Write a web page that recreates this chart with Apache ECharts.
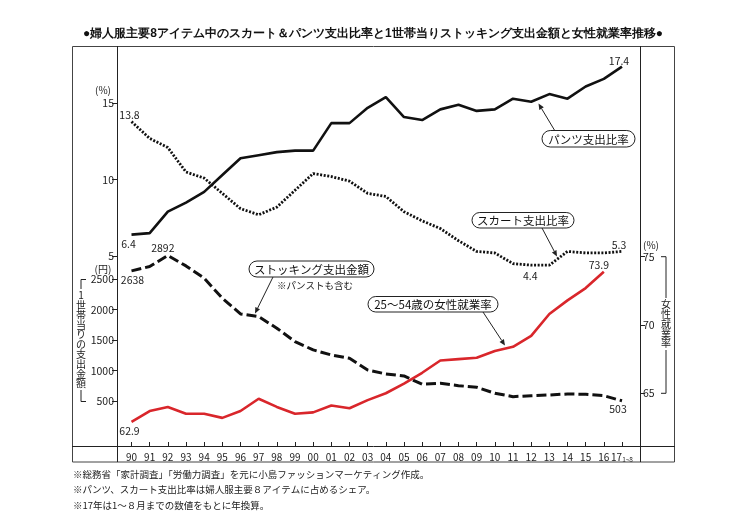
<!DOCTYPE html>
<html><head><meta charset="utf-8">
<script src="https://cdn.jsdelivr.net/npm/echarts@6/dist/echarts.min.js"></script>
<style>html,body{margin:0;padding:0;background:#fff}#c{width:750px;height:530px}</style>
</head><body><div id="c"></div>
<script>
// ---- data ----
const years = ['90','91','92','93','94','95','96','97','98','99','00','01','02','03','04','05','06','07','08','09','10','11','12','13','14','15','16','17'];
const pantsShare = [6.4,6.5,7.9,8.5,9.2,10.3,11.4,11.6,11.8,11.9,11.9,13.7,13.7,14.7,15.4,14.1,13.9,14.6,14.9,14.5,14.6,15.3,15.1,15.6,15.3,16.1,16.6,17.4];
const skirtShare = [13.8,12.7,12.1,10.5,10.1,9.1,8.1,7.7,8.2,9.3,10.4,10.2,9.9,9.1,8.9,7.9,7.3,6.8,6.0,5.3,5.2,4.5,4.4,4.4,5.3,5.2,5.2,5.3];
const stockingYen = [2638,2709,2892,2720,2518,2189,1931,1887,1696,1476,1339,1257,1202,1010,944,911,775,791,752,725,627,571,587,599,615,610,587,503];
const femaleEmployment = [62.9,63.7,64.0,63.5,63.5,63.2,63.7,64.6,64.0,63.5,63.6,64.1,63.9,64.5,65.0,65.7,66.5,67.4,67.5,67.6,68.1,68.4,69.2,70.8,71.8,72.7,73.9,null];
const pctTicks = [5,10,15];
const yenTicks = [500,1000,1500,2000,2500];
const empTicks = [65,70,75];
const titleText = '●婦人服主要8アイテム中のスカート＆パンツ支出比率と1世帯当りストッキング支出金額と女性就業率推移●';
const notes = ['※総務省「家計調査」「労働力調査」を元に小島ファッションマーケティング作成。','※パンツ、スカート支出比率は婦人服主要８アイテムに占めるシェア。','※17年は1〜８月までの数値をもとに年換算。'];

// ---- label placement (style, not data) ----
const pantsMarks = {0:[-3,9], 27:[-3,-6]};
const skirtMarks = {0:[-2,-7], 22:[-1,10.5], 27:[-3,-6.5]};
const stockMarks = {0:[1,9.5], 2:[-5,-7.5], 27:[-4,8]};
const empMarks = {0:[-2,9], 26:[-5,-7]};

const FONT = '"Noto Sans CJK JP","Noto Sans",sans-serif';
function withLabels(values, marks){
  return values.map((v,i)=> marks[i] ? {value:v, label:{show:true, position:'inside', offset:marks[i], color:'#222', fontSize:10.5, fontFamily:FONT}} : v);
}
function arrow(x1,y1,x2,y2){
  const a=Math.atan2(y2-y1,x2-x1), L=6, W=2.6;
  const bx=x2-L*Math.cos(a), by=y2-L*Math.sin(a);
  return [
    {type:'line',shape:{x1,y1,x2:bx,y2:by},style:{stroke:'#222',lineWidth:1},z:20},
    {type:'polygon',shape:{points:[[x2,y2],[bx+W*Math.sin(a),by-W*Math.cos(a)],[bx-W*Math.sin(a),by+W*Math.cos(a)]]},style:{fill:'#222'},z:20}
  ];
}
function pill(x,y,w,h,text){
  return [
    {type:'rect',shape:{x,y,width:w,height:h,r:h/2},style:{fill:'#fff',stroke:'#222',lineWidth:1},z:21},
    {type:'text',x:x+w/2,y:y+h/2+0.5,style:{text,fill:'#111',font:'11.5px '+FONT,align:'center',verticalAlign:'middle'},z:22}
  ];
}
function txt(x,y,text,size,align,extra){
  return Object.assign({type:'text',x,y,style:Object.assign({text,fill:'#222',font:size+'px '+FONT,align:align||'center',verticalAlign:'middle'},extra||{}),z:22});
}
const L = (pts)=>({type:'polyline',shape:{points:pts},style:{stroke:'#222',lineWidth:1,fill:null},z:20});

const graphics = [].concat(
  [{type:'rect',shape:{x:72.5,y:46.5,width:602,height:415.5},style:{fill:null,stroke:'#444',lineWidth:1},z:19},
   L([[117.5,46],[117.5,462]]), L([[640.5,46],[640.5,462]]), L([[72,446.5],[675,446.5]])],
  [txt(373,34,titleText,11.8,'center',{fontWeight:'bold',fill:'#111'})],
  notes.map((t,i)=>txt(73,474+i*15.5,t,9.5,'left')),
  [txt(103,90,'(%)',10), txt(103,269,'(円)',10), txt(651,245,'(%)',10)],
  [L([[86,279.5],[81,279.5],[81,289]]), L([[81,390],[81,401.5],[86,401.5]]),
   txt(81,339.5,'1\n世\n帯\n当\nり\nの\n支\n出\n金\n額',10,'center',{lineHeight:9.8}),
   L([[661,256.7],[666,256.7],[666,298]]), L([[666,350],[666,393.3],[661,393.3]]),
   txt(666,324,'女\n性\n就\n業\n率',10,'center',{lineHeight:9.8})],
  pill(542,130.5,93,16.5,'パンツ支出比率'), arrow(555,131,538.5,103.5),
  pill(472,212.5,102,15.5,'スカート支出比率'), arrow(542,228,557,256.5),
  pill(249,261,125,16,'ストッキング支出金額'), arrow(273,277,255,313.5),
  [txt(277,285.5,'※パンストも含む',9.5,'left')],
  pill(368,296.5,130,15.5,'25〜54歳の女性就業率'), arrow(483,312,505,345.5)
);

const chart = echarts.init(document.getElementById('c'), null, {renderer:'canvas'});
const tickStyle = {color:'#222', width:1};
const plain = (v)=>String(v);
chart.setOption({
  animation:false,
  backgroundColor:'#fff',
  grid:{left:131.5, right:128, top:46, bottom:84},
  xAxis:{type:'category', data:years, boundaryGap:false, position:'bottom',
    axisLine:{show:false, onZero:false},
    axisTick:{show:true, inside:true, length:4, lineStyle:tickStyle, interval:0},
    axisLabel:{interval:0, margin:6, fontSize:10, color:'#222', fontFamily:FONT,
      formatter:(v)=> v==='17' ? '{a|17}{b|1~8}' : v,
      rich:{a:{fontSize:10, color:'#222', fontFamily:FONT}, b:{fontSize:6.5, color:'#222', fontFamily:FONT, padding:[4,0,0,0]}}},
    splitLine:{show:false}},
  yAxis:[
    {type:'value', min:-7.44, max:18.75, position:'left', offset:14.5,
     axisLine:{show:false, onZero:false}, splitLine:{show:false},
     axisTick:{show:true, length:5, lineStyle:tickStyle, customValues:pctTicks},
     axisLabel:{customValues:pctTicks, formatter:plain, margin:3, fontSize:10.5, color:'#222', fontFamily:FONT}},
    {type:'value', min:-240, max:6334, position:'left', offset:14.5,
     axisLine:{show:false, onZero:false}, splitLine:{show:false},
     axisTick:{show:true, length:5, lineStyle:tickStyle, customValues:yenTicks},
     axisLabel:{customValues:yenTicks, formatter:plain, margin:3, fontSize:10.5, color:'#222', fontFamily:FONT}},
    {type:'value', min:61.14, max:90.42, position:'right', offset:18,
     axisLine:{show:false, onZero:false}, splitLine:{show:false},
     axisTick:{show:true, length:5, lineStyle:tickStyle, customValues:empTicks},
     axisLabel:{customValues:empTicks, formatter:plain, margin:3, fontSize:10.5, color:'#222', fontFamily:FONT}}
  ],
  series:[
    {name:'パンツ支出比率', type:'line', yAxisIndex:0, data:withLabels(pantsShare,pantsMarks),
     symbol:'circle', symbolSize:0, showSymbol:true, label:{show:false},
     lineStyle:{color:'#111', width:2.6}, itemStyle:{color:'#111'}, z:5},
    {name:'スカート支出比率', type:'line', yAxisIndex:0, data:withLabels(skirtShare,skirtMarks),
     symbol:'circle', symbolSize:0, showSymbol:true, label:{show:false},
     lineStyle:{color:'#111', width:2.8, type:[2,1.6]}, itemStyle:{color:'#111'}, z:5},
    {name:'ストッキング支出金額', type:'line', yAxisIndex:1, data:withLabels(stockingYen,stockMarks),
     symbol:'circle', symbolSize:0, showSymbol:true, label:{show:false},
     lineStyle:{color:'#111', width:3, type:[10,4]}, itemStyle:{color:'#111'}, z:5},
    {name:'25〜54歳の女性就業率', type:'line', yAxisIndex:2, data:withLabels(femaleEmployment,empMarks),
     symbol:'circle', symbolSize:0, showSymbol:true, label:{show:false}, connectNulls:false,
     lineStyle:{color:'#d9262b', width:2.6}, itemStyle:{color:'#d9262b'}, z:5}
  ],
  graphic:graphics
});
</script>
</body></html>
